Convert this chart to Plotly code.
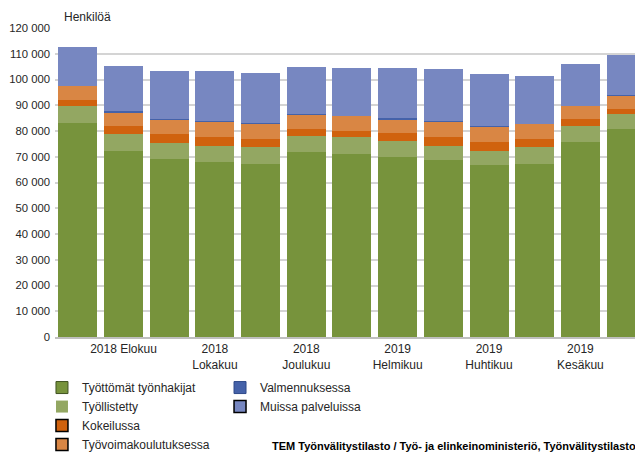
import plotly.graph_objects as go

months = ["2018 Heinäkuu", "2018 Elokuu", "2018 Syyskuu", "2018 Lokakuu", "2018 Marraskuu",
          "2018 Joulukuu", "2019 Tammikuu", "2019 Helmikuu", "2019 Maaliskuu", "2019 Huhtikuu",
          "2019 Toukokuu", "2019 Kesäkuu", "2019 Heinäkuu"]
tick_labels = ["2018 Elokuu", "2018<br>Lokakuu", "2018<br>Joulukuu", "2019<br>Helmikuu",
               "2019<br>Huhtikuu", "2019<br>Kesäkuu"]
tick_months = ["2018 Elokuu", "2018 Lokakuu", "2018 Joulukuu", "2019 Helmikuu",
               "2019 Huhtikuu", "2019 Kesäkuu"]

tyottomat = [83200, 72300, 69150, 68000, 67200, 71900, 71100, 69900, 68750, 66800, 67200, 75800, 80800]
tyollistetty = [6600, 6600, 6200, 6200, 6600, 6200, 6600, 6200, 5450, 5450, 6600, 6200, 5850]
kokeilussa = [2300, 3100, 3500, 3500, 3100, 2750, 2350, 3100, 3500, 3500, 3100, 2700, 2000]
koulutus = [5450, 5200, 5550, 5850, 6100, 5450, 5850, 5450, 5850, 5850, 5850, 5050, 5050]
valmennus = [0, 650, 400, 400, 150, 400, 100, 400, 400, 400, 100, 100, 100]
muissa = [15200, 17500, 18550, 19450, 19450, 18300, 18650, 19450, 20250, 20250, 18700, 16350, 15550]

series = [
    ("Työttömät työnhakijat", tyottomat, "#77933c", "#3f5220", "legend"),
    ("Työllistetty", tyollistetty, "#93a762", None, "legend"),
    ("Kokeilussa", kokeilussa, "#d0620e", "#000000", "legend"),
    ("Työvoimakoulutuksessa", koulutus, "#d98644", "#000000", "legend"),
    ("Valmennuksessa", valmennus, "#4562a9", "#2f4a8a", "legend2"),
    ("Muissa palveluissa", muissa, "#7787c1", "#000000", "legend2"),
]

fig = go.Figure()
xs = list(range(len(months)))
for name, vals, color, edge, lg in series:
    fig.add_trace(go.Bar(x=xs, y=vals, name=name, marker=dict(color=color, line=dict(width=0)),
                         width=0.853, showlegend=False, hovertext=months))
for name, vals, color, edge, lg in series:
    fig.add_trace(go.Bar(x=[None], y=[None], name=name, legend=lg,
                         marker=dict(color=color,
                                     line=dict(color=edge or color,
                                               width=1.5 if edge == "#000000" else (1 if edge else 0)))))

tickpos = [months.index(m) for m in tick_months]

legend_common = dict(xref="container", yref="container", xanchor="left", yanchor="top",
                     orientation="v", traceorder="normal",
                     font=dict(size=12, color="#262626"), tracegroupgap=0,
                     bgcolor="rgba(0,0,0,0)", borderwidth=0)

fig.update_layout(
    width=635, height=446,
    barmode="stack",
    separators=", ",
    margin=dict(l=47, r=0, t=20, b=117, autoexpand=False),
    paper_bgcolor="white", plot_bgcolor="white",
    font=dict(family="Liberation Sans, Arial, sans-serif", size=12, color="#262626"),
    xaxis=dict(range=[-0.5, 12.37], tickmode="array", tickvals=tickpos, ticktext=tick_labels,
               showgrid=False, showline=True, linecolor="#bfbfbf", linewidth=2,
               ticks="", automargin=False, tickfont=dict(size=12, color="#262626")),
    yaxis=dict(range=[0, 120000], dtick=10000, tickformat=",d", showgrid=True,
               gridcolor="#d4d4d4", gridwidth=1.5, zeroline=False, showline=False,
               ticks="", automargin=False, ticklabelstandoff=4,
               tickfont=dict(size=11.3, color="#262626")),
    legend=dict(x=0.0535, y=0.1815, **legend_common),
    legend2=dict(x=0.3339, y=0.1815, **legend_common),
    annotations=[
        dict(text="Henkilöä", xref="paper", yref="paper", x=0.0119, y=1.0647,
             xanchor="left", yanchor="top", showarrow=False,
             font=dict(size=12, color="#262626")),
        dict(text="<b>TEM Työnvälitystilasto / Työ- ja elinkeinoministeriö, Työnvälitystilasto</b>",
             xref="paper", yref="paper", x=0.9915, y=-0.3528, xanchor="right", yanchor="middle",
             showarrow=False, font=dict(size=11, color="#000000")),
    ],
)

fig.write_html("out.html")
